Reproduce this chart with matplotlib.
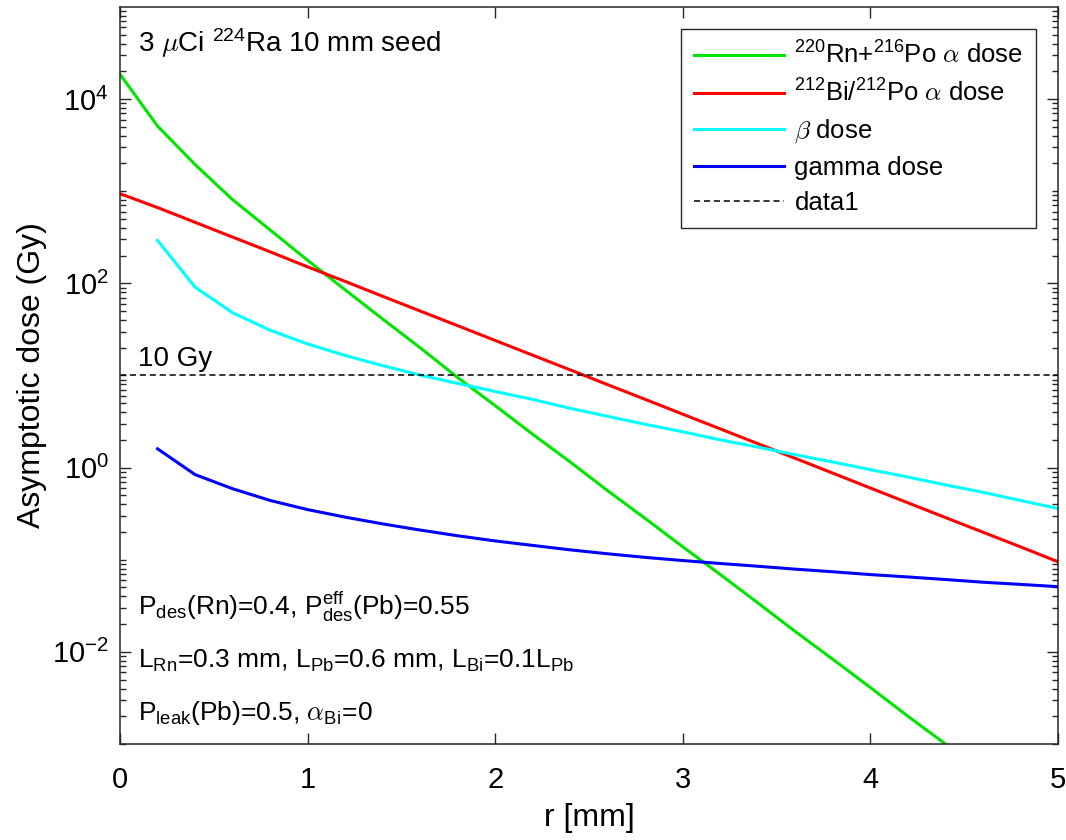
import numpy as np
import matplotlib
matplotlib.use("Agg")
import matplotlib.pyplot as plt
from matplotlib.ticker import FixedLocator, NullFormatter

plt.rcParams['font.family'] = ['Liberation Sans', 'DejaVu Sans']
plt.rcParams['mathtext.fontset'] = 'cm'

# radial distance [mm]
r = [0.0, 0.2, 0.4, 0.6, 0.8, 1.0, 1.2, 1.4, 1.6, 1.8, 2.0, 2.2, 2.4,
     2.6, 2.8, 3.0, 3.2, 3.4, 3.6, 3.8, 4.0, 4.2, 4.4, 4.6, 4.8, 5.0]

# 220Rn + 216Po alpha dose (Gy)
dose_rn = [18600, 5100, 1950, 810, 380, 178, 85, 41, 20, 9.5, 4.7, 2.3, 1.15,
           0.56, 0.28, 0.138, 0.069, 0.034, 0.0166, 0.0083, 0.0041, 0.0020,
           0.0010, 0.0005, 0.00025, 0.00012]

# 212Bi/212Po alpha dose (Gy)
dose_bi = [940, 665, 460, 318, 220, 151, 105, 72.4, 50.1, 34.7, 24.0, 16.6,
           11.5, 7.94, 5.5, 3.8, 2.63, 1.82, 1.26, 0.87, 0.60, 0.415, 0.287,
           0.199, 0.138, 0.095]

# beta and gamma dose start at r = 0.2 mm
r_bg = r[1:]
dose_beta = [293, 91, 48, 31, 22, 16.5, 12.8, 10.1, 8.2, 6.7, 5.5, 4.4, 3.6,
             2.95, 2.45, 2.0, 1.67, 1.38, 1.15, 0.95, 0.79, 0.65, 0.54, 0.44,
             0.36]
dose_gamma = [1.6, 0.84, 0.59, 0.44, 0.35, 0.29, 0.245, 0.21, 0.182, 0.16,
              0.143, 0.128, 0.116, 0.106, 0.098, 0.091, 0.085, 0.079, 0.074,
              0.069, 0.065, 0.061, 0.057, 0.054, 0.051]

threshold = 10  # Gy

fig = plt.figure(figsize=(10.66, 8.4), dpi=100)
ax = fig.add_axes([0.1126, 0.1143, 0.8799, 0.8774])

lw = 2.2
ax.semilogy(r, dose_rn, color=(0, 0.9, 0), lw=lw,
            label=r'$\mathregular{^{220}}$Rn+$\mathregular{^{216}}$Po $\alpha$ dose')
ax.semilogy(r, dose_bi, color=(1, 0, 0), lw=lw,
            label=r'$\mathregular{^{212}}$Bi/$\mathregular{^{212}}$Po $\alpha$ dose')
ax.semilogy(r_bg, dose_beta, color=(0, 1, 1), lw=lw, label=r'$\beta$ dose')
ax.semilogy(r_bg, dose_gamma, color=(0, 0, 1), lw=lw, label='gamma dose')
ax.axhline(threshold, color='k', lw=1.1, ls=(0, (4, 2.5)), label='data1')

ax.set_xlim(0, 5)
ax.set_ylim(1e-3, 1e5)

ax.set_xticks([0, 1, 2, 3, 4, 5])
ax.yaxis.set_major_locator(FixedLocator([1e-2, 1e0, 1e2, 1e4]))
minors = []
for k in range(-3, 5):
    for m in range(1, 10):
        if m == 1 and k % 2 == 0:
            continue
        minors.append(m * 10.0 ** k)
ax.yaxis.set_minor_locator(FixedLocator(minors))
ax.yaxis.set_minor_formatter(NullFormatter())
ax.set_yticklabels([r'$\mathregular{10^{-2}}$', r'$\mathregular{10^{0}}$',
                    r'$\mathregular{10^{2}}$', r'$\mathregular{10^{4}}$'])

axc = (0.15, 0.15, 0.15)
for s in ax.spines.values():
    s.set_color(axc)
    s.set_linewidth(1.1)
ax.tick_params(which='both', direction='in', top=True, right=True,
               colors=axc, labelcolor='k', labelsize=21, width=1.0)
ax.tick_params(which='major', length=8)
ax.tick_params(which='minor', length=4.5)
ax.tick_params(axis='x', which='major', pad=16)
ax.tick_params(axis='y', which='major', pad=8)

ax.set_xlabel('r [mm]', fontsize=23, labelpad=6)
ax.set_ylabel('Asymptotic dose (Gy)', fontsize=23, labelpad=4)

fs = 20
fs2 = 19
ax.text(0.019, 0.939, r'3 $\mu$Ci $\mathregular{^{224}}$Ra 10 mm seed',
        transform=ax.transAxes, fontsize=fs, va='baseline')
ax.text(0.019, 0.513, '10 Gy', transform=ax.transAxes, fontsize=fs,
        va='baseline')
ax.text(0.019, 0.175,
        r'$\mathregular{P_{des}}$(Rn)=0.4, $\mathregular{P_{des}^{eff}}$(Pb)=0.55',
        transform=ax.transAxes, fontsize=fs2, va='baseline')
ax.text(0.019, 0.103,
        r'$\mathregular{L_{Rn}}$=0.3 mm, $\mathregular{L_{Pb}}$=0.6 mm, '
        r'$\mathregular{L_{Bi}}$=0.1$\mathregular{L_{Pb}}$',
        transform=ax.transAxes, fontsize=fs2, va='baseline')
ax.text(0.019, 0.0326,
        r'$\mathregular{P_{leak}}$(Pb)=0.5, $\alpha_{\mathregular{Bi}}$=0',
        transform=ax.transAxes, fontsize=fs2, va='baseline')

leg = ax.legend(loc='upper right', fontsize=18.5, frameon=True, fancybox=False,
                edgecolor=axc, framealpha=1, handlelength=3.5,
                handletextpad=0.4, borderaxespad=0.85, labelspacing=0.42,
                borderpad=0.5)
leg.get_frame().set_linewidth(1.0)

fig.savefig('out.png', dpi=100)
